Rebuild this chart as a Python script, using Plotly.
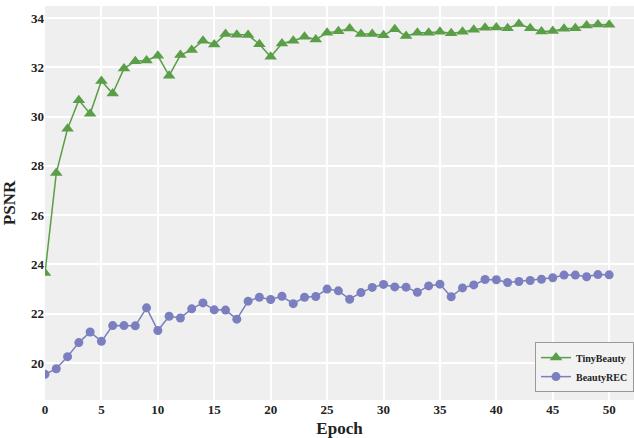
import plotly.graph_objects as go

epochs = list(range(51))
tinybeauty = [23.65, 27.71, 29.51, 30.67, 30.12, 31.45, 30.94, 31.95, 32.25, 32.28,
              32.47, 31.66, 32.50, 32.70, 33.08, 32.93, 33.35, 33.32, 33.31, 32.94,
              32.43, 32.97, 33.08, 33.24, 33.13, 33.40, 33.47, 33.58, 33.35, 33.35,
              33.30, 33.55, 33.27, 33.40, 33.40, 33.44, 33.38, 33.44, 33.53, 33.61,
              33.62, 33.59, 33.76, 33.59, 33.46, 33.48, 33.57, 33.59, 33.70, 33.74,
              33.73]
beautyrec = [19.54, 19.77, 20.26, 20.83, 21.26, 20.88, 21.52, 21.52, 21.51, 22.24,
             21.32, 21.90, 21.83, 22.20, 22.44, 22.16, 22.15, 21.78, 22.51, 22.67,
             22.58, 22.71, 22.41, 22.67, 22.70, 23.00, 22.93, 22.59, 22.86, 23.07,
             23.19, 23.09, 23.08, 22.87, 23.13, 23.20, 22.69, 23.05, 23.17, 23.39,
             23.38, 23.27, 23.31, 23.35, 23.40, 23.46, 23.57, 23.57, 23.50, 23.59,
             23.58]
x_ticks = [0, 5, 10, 15, 20, 25, 30, 35, 40, 45, 50]
y_ticks = [20, 22, 24, 26, 28, 30, 32, 34]

GREEN = "#5a9e47"
BLUE = "#7b7fbf"
FONT = "Liberation Serif"

fig = go.Figure()
fig.add_trace(go.Scatter(
    x=epochs, y=tinybeauty, name="<b>TinyBeauty</b>", mode="lines+markers",
    line=dict(color=GREEN, width=1.5),
    marker=dict(symbol="triangle-up", size=11, color=GREEN),
))
fig.add_trace(go.Scatter(
    x=epochs, y=beautyrec, name="<b>BeautyREC</b>", mode="lines+markers",
    line=dict(color=BLUE, width=1.5),
    marker=dict(symbol="circle", size=9, color=BLUE),
))

fig.update_layout(
    width=634, height=438,
    margin=dict(l=45, r=0, t=6, b=38, autoexpand=False),
    paper_bgcolor="white",
    plot_bgcolor="#efefef",
    font=dict(family=FONT, size=13, color="#222"),
    showlegend=True,
    legend=dict(
        x=1.0, y=0.02, xanchor="right", yanchor="bottom",
        bgcolor="#f2f2f2", bordercolor="#999", borderwidth=1,
        font=dict(family=FONT, size=10, color="#222"),
        tracegroupgap=0, itemwidth=30,
    ),
)
fig.update_xaxes(
    range=[0, 52.2], tickvals=x_ticks,
    ticktext=[f"<b>{v}</b>" for v in x_ticks],
    showgrid=True, gridcolor="white", gridwidth=1.5, zeroline=False,
    ticks="", ticklen=0, automargin=False,
    title=dict(text="<b>Epoch</b>", font=dict(family=FONT, size=17)),
)
fig.update_yaxes(
    range=[18.5, 34.49], tickvals=y_ticks,
    ticktext=[f"<b>{v}</b>" for v in y_ticks],
    showgrid=True, gridcolor="white", gridwidth=1.5, zeroline=False,
    ticks="", ticklen=0, automargin=False,
    title=dict(text="<b>PSNR</b>", font=dict(family=FONT, size=17)),
)

fig.write_html(
    "out.html",
    config={"displayModeBar": False},
    post_script="document.body.style.margin='0';document.body.style.overflow='hidden';",
)
